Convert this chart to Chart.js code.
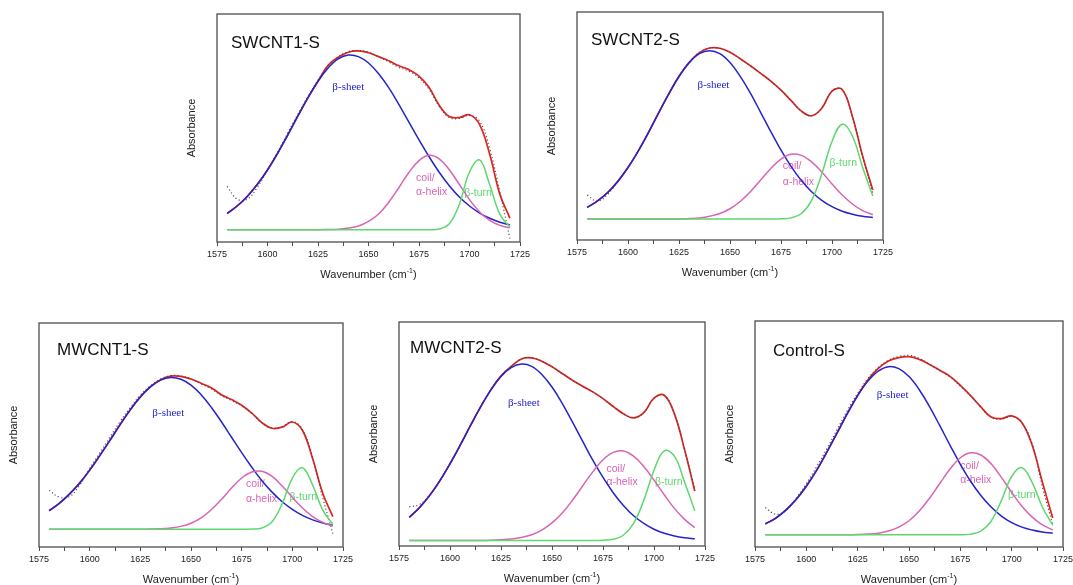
<!DOCTYPE html>
<html>
<head>
<meta charset="utf-8">
<title>FTIR amide I deconvolution</title>
<script src="https://cdn.jsdelivr.net/npm/chart.js@4.4.1/dist/chart.umd.min.js"></script>
<style>
  html, body { margin: 0; padding: 0; background: #fff; overflow: hidden; }
  body { width: 1073px; height: 585px; position: relative; }
  canvas { position: absolute; }
</style>
</head>
<body>
<canvas id="c-swcnt1"></canvas>
<canvas id="c-swcnt2"></canvas>
<canvas id="c-mwcnt1"></canvas>
<canvas id="c-mwcnt2"></canvas>
<canvas id="c-control"></canvas>
<script>
// wavenumber grid shared by every curve (cm-1)
var wavenumbers = [1580, 1585, 1590, 1595, 1600, 1605, 1610, 1615, 1620, 1625, 1630, 1635, 1640, 1645, 1650,
  1655, 1660, 1665, 1670, 1675, 1680, 1685, 1690, 1695, 1700, 1705, 1710, 1715, 1720];
var xTickLabels = [1575, 1600, 1625, 1650, 1675, 1700, 1725];

// SWCNT1-S
var swcnt1Sheet = [12.5, 15.8, 20.0, 25.3, 31.6, 38.9, 46.9, 55.2, 63.2, 70.5, 76.3, 80.3, 82.0, 81.3, 78.5, 73.8, 67.7, 60.4, 52.6, 44.8, 37.4, 30.6, 24.7, 19.7, 15.8, 12.7, 10.4, 8.7, 7.5];
var swcnt1Helix = [5.4, 5.4, 5.4, 5.4, 5.4, 5.4, 5.4, 5.4, 5.4, 5.4, 5.5, 5.6, 6.1, 7.0, 9.0, 12.3, 17.4, 23.8, 30.5, 35.7, 38.0, 36.5, 31.7, 25.2, 18.6, 13.2, 9.5, 7.3, 6.2];
var swcnt1Turn = [5.4, 5.4, 5.4, 5.4, 5.4, 5.4, 5.4, 5.4, 5.4, 5.4, 5.4, 5.4, 5.4, 5.4, 5.4, 5.4, 5.4, 5.4, 5.4, 5.4, 5.4, 5.7, 8.0, 16.6, 30.7, 36.0, 25.1, 12.2, 6.6];
var swcnt1Fit = [12.5, 15.8, 20.0, 25.3, 31.6, 38.9, 46.9, 55.2, 63.2, 70.5, 77.5, 81.0, 83.2, 83.8, 83.0, 81.3, 79.5, 77.3, 75.6, 72.8, 67.8, 60.0, 55.0, 54.6, 55.8, 51.5, 38.5, 21.0, 10.5];
var swcnt1Measured = [24.4, 18.8, 18.8, 24.0, 31.6, 39.5, 47.8, 56.0, 63.8, 71.0, 77.2, 81.2, 83.5, 84.0, 83.3, 81.2, 79.0, 76.6, 74.9, 72.0, 67.0, 59.5, 54.6, 54.2, 55.5, 53.0, 41.0, 22.0, 1.5];

// SWCNT2-S
var swcnt2Sheet = [14.3, 17.1, 20.8, 25.7, 31.8, 39.0, 47.1, 55.7, 64.1, 71.7, 77.7, 81.7, 83.0, 81.7, 77.8, 71.8, 64.4, 56.0, 47.5, 39.4, 32.2, 26.1, 21.2, 17.4, 14.6, 12.6, 11.3, 10.4, 9.9];
var swcnt2Helix = [9.2, 9.2, 9.2, 9.2, 9.2, 9.2, 9.2, 9.2, 9.2, 9.2, 9.4, 9.7, 10.4, 11.6, 13.7, 16.9, 21.2, 26.3, 31.4, 35.5, 37.6, 37.1, 34.3, 29.8, 24.6, 19.7, 15.8, 12.9, 11.1];
var swcnt2Turn = [9.2, 9.2, 9.2, 9.2, 9.2, 9.2, 9.2, 9.2, 9.2, 9.2, 9.2, 9.2, 9.2, 9.2, 9.2, 9.2, 9.2, 9.2, 9.2, 9.3, 9.7, 11.6, 17.4, 29.0, 43.2, 50.8, 45.6, 31.9, 19.3];
var swcnt2Fit = [14.3, 17.1, 20.8, 25.7, 31.8, 39.0, 47.1, 55.7, 64.1, 71.8, 77.9, 82.2, 84.2, 84.1, 82.3, 79.5, 76.4, 73.1, 69.7, 65.7, 61.1, 56.5, 54.5, 57.8, 65.3, 66.0, 54.2, 36.8, 21.9];
var swcnt2Measured = [19.7, 17.0, 20.0, 25.7, 31.8, 39.0, 47.1, 55.7, 64.1, 71.8, 77.9, 82.2, 84.2, 84.1, 82.3, 79.5, 76.4, 73.1, 69.7, 65.7, 61.1, 56.5, 54.5, 57.8, 65.3, 66.0, 54.2, 36.8, 20.5];

// MWCNT1-S
var mwcnt1Sheet = [16.2, 19.5, 23.6, 28.5, 34.3, 40.8, 47.6, 54.6, 61.2, 67.0, 71.5, 74.5, 75.7, 74.9, 72.3, 68.0, 62.4, 55.9, 49.0, 42.1, 35.6, 29.6, 24.5, 20.2, 16.8, 14.1, 12.1, 10.7, 9.7];
var mwcnt1Helix = [7.9, 7.9, 7.9, 7.9, 7.9, 7.9, 7.9, 7.9, 7.9, 7.9, 8.0, 8.1, 8.5, 9.2, 10.6, 13.0, 16.6, 21.2, 26.3, 30.8, 33.5, 33.8, 31.5, 27.2, 22.2, 17.4, 13.6, 11.0, 9.4];
var mwcnt1Turn = [7.9, 7.9, 7.9, 7.9, 7.9, 7.9, 7.9, 7.9, 7.9, 7.9, 7.9, 7.9, 7.9, 7.9, 7.9, 7.9, 7.9, 7.9, 7.9, 7.9, 8.0, 8.5, 11.3, 19.3, 30.8, 35.4, 27.7, 16.5, 10.1];
var mwcnt1Fit = [16.2, 19.5, 23.6, 28.5, 34.3, 40.8, 47.6, 54.6, 61.2, 67.0, 71.6, 74.7, 76.3, 76.2, 75.0, 73.1, 71.1, 68.0, 65.8, 63.3, 59.8, 55.5, 53.0, 53.5, 55.8, 52.0, 39.5, 24.0, 13.6];
var mwcnt1Measured = [25.4, 22.2, 22.5, 27.5, 35.0, 42.0, 49.0, 56.0, 62.2, 67.8, 72.0, 75.0, 76.5, 76.4, 75.0, 72.8, 70.6, 67.6, 65.4, 63.0, 59.6, 55.4, 53.2, 53.8, 56.0, 52.5, 40.0, 22.0, 6.0];

// MWCNT2-S
var mwcnt2Sheet = [12.8, 17.1, 22.5, 29.1, 36.7, 45.0, 53.7, 62.1, 69.6, 75.7, 79.6, 81.2, 80.2, 76.6, 71.0, 63.7, 55.4, 46.8, 38.3, 30.6, 23.8, 18.1, 13.5, 10.1, 7.5, 5.7, 4.5, 3.7, 3.2];
var mwcnt2Helix = [2.5, 2.5, 2.5, 2.5, 2.5, 2.5, 2.5, 2.5, 2.6, 2.8, 3.1, 3.8, 5.0, 7.1, 10.3, 14.7, 20.4, 26.8, 33.1, 38.5, 41.8, 42.4, 40.1, 35.5, 29.4, 22.9, 16.8, 11.9, 8.2];
var mwcnt2Turn = [2.5, 2.5, 2.5, 2.5, 2.5, 2.5, 2.5, 2.5, 2.5, 2.5, 2.5, 2.5, 2.5, 2.5, 2.5, 2.5, 2.5, 2.5, 2.5, 2.6, 3.0, 4.8, 10.1, 20.4, 33.8, 42.5, 40.1, 28.5, 15.7];
var mwcnt2Fit = [12.8, 17.1, 22.5, 29.1, 36.7, 45.0, 53.7, 62.1, 69.7, 76.0, 80.2, 83.5, 84.0, 82.5, 80.0, 77.0, 74.0, 71.3, 68.8, 65.8, 62.3, 59.0, 57.2, 59.5, 66.0, 67.3, 59.0, 43.0, 24.5];
var mwcnt2Measured = [17.5, 18.5, 22.8, 29.1, 36.7, 45.0, 53.7, 62.1, 69.7, 76.0, 80.2, 83.5, 84.0, 82.5, 80.0, 77.0, 74.0, 71.3, 68.8, 65.8, 62.3, 59.0, 57.2, 59.5, 66.0, 67.3, 59.0, 43.0, 25.5];

// Control-S
var controlSheet = [10.2, 12.7, 16.3, 21.0, 26.9, 33.9, 42.0, 50.5, 59.1, 67.0, 73.4, 77.8, 79.8, 78.9, 75.4, 69.6, 62.1, 53.7, 45.0, 36.6, 29.1, 22.8, 17.7, 13.7, 10.8, 8.8, 7.5, 6.6, 6.1];
var controlHelix = [5.4, 5.4, 5.4, 5.4, 5.4, 5.4, 5.4, 5.4, 5.4, 5.5, 5.7, 6.1, 7.1, 8.8, 11.6, 15.9, 21.6, 28.1, 34.5, 39.5, 41.7, 40.7, 36.8, 30.8, 24.2, 18.0, 13.2, 9.8, 7.6];
var controlTurn = [5.4, 5.4, 5.4, 5.4, 5.4, 5.4, 5.4, 5.4, 5.4, 5.4, 5.4, 5.4, 5.4, 5.4, 5.4, 5.4, 5.4, 5.4, 5.4, 5.4, 5.7, 7.0, 11.4, 20.6, 31.2, 35.1, 28.5, 17.6, 9.7];
var controlFit = [10.2, 12.7, 16.3, 21.0, 26.9, 33.9, 42.0, 50.5, 59.1, 67.1, 74.0, 79.0, 82.3, 83.8, 84.2, 83.0, 80.8, 78.2, 75.5, 71.5, 67.0, 62.0, 57.5, 56.8, 58.0, 55.0, 45.0, 28.5, 12.8];
var controlMeasured = [17.5, 14.5, 16.0, 21.5, 28.0, 35.5, 43.5, 52.0, 60.5, 68.0, 74.5, 79.3, 82.6, 84.3, 84.8, 83.5, 80.8, 78.0, 75.2, 71.2, 66.8, 61.8, 57.3, 56.6, 57.8, 55.0, 45.5, 26.5, 9.9];

var SANS = '"Liberation Sans", Arial, sans-serif';
var SERIF = '"Liberation Serif", "Times New Roman", serif';
var colors = { sheet: '#2424cc', helix: '#d964b4', turn: '#5ed86e', fit: '#e2231f', measured: '#4a4a4a' };

// frame = plot area in page pixels [left, top, right, bottom]
var panels = [
  { canvas: 'c-swcnt1', title: 'SWCNT1-S', frame: [217, 14, 520, 242], titleAt: [14, 34],
    sheet: swcnt1Sheet, helix: swcnt1Helix, turn: swcnt1Turn, fit: swcnt1Fit, measured: swcnt1Measured,
    labels: { sheet: [1640, 67.9], coil: [1673.5, 28.0], helix: [1673.5, 21.8], turn: [1697.4, 21.5] } },
  { canvas: 'c-swcnt2', title: 'SWCNT2-S', frame: [577, 12, 883, 240], titleAt: [14, 33],
    sheet: swcnt2Sheet, helix: swcnt2Helix, turn: swcnt2Turn, fit: swcnt2Fit, measured: swcnt2Measured,
    labels: { sheet: [1641.9, 68.0], coil: [1675.9, 32.2], helix: [1675.9, 25.6], turn: [1698.8, 33.6] } },
  { canvas: 'c-mwcnt1', title: 'MWCNT1-S', frame: [39, 323, 343, 547], titleAt: [18, 32],
    sheet: mwcnt1Sheet, helix: mwcnt1Helix, turn: mwcnt1Turn, fit: mwcnt1Fit, measured: mwcnt1Measured,
    labels: { sheet: [1638.8, 59.7], coil: [1677.1, 27.9], helix: [1677.1, 21.6], turn: [1698.6, 22.1] } },
  { canvas: 'c-mwcnt2', title: 'MWCNT2-S', frame: [399, 322, 705, 546], titleAt: [11, 31],
    sheet: mwcnt2Sheet, helix: mwcnt2Helix, turn: mwcnt2Turn, fit: mwcnt2Fit, measured: mwcnt2Measured,
    labels: { sheet: [1636.2, 64.0], coil: [1676.7, 34.3], helix: [1676.7, 28.4], turn: [1700.5, 28.4] } },
  { canvas: 'c-control', title: 'Control-S', frame: [755, 321, 1063, 547], titleAt: [18, 35],
    sheet: controlSheet, helix: controlHelix, turn: controlTurn, fit: controlFit, measured: controlMeasured,
    labels: { sheet: [1642, 67.3], coil: [1674.9, 35.9], helix: [1674.9, 29.5], turn: [1698.2, 22.8] } }
];

function points(values) {
  return wavenumbers.map(function (w, i) { return { x: w, y: values[i] }; });
}

// frame, panel title, axis titles and band labels
var panelDecor = {
  id: 'panelDecor',
  beforeDatasetsDraw: function (chart, args, opts) {
    var ctx = chart.ctx, xs = chart.scales.x, ys = chart.scales.y, lb = opts.labels;
    ctx.save();
    ctx.textBaseline = 'middle';
    ctx.font = '11px ' + SERIF;
    ctx.fillStyle = colors.sheet;
    ctx.textAlign = 'center';
    ctx.fillText('\u03b2-sheet', xs.getPixelForValue(lb.sheet[0]), ys.getPixelForValue(lb.sheet[1]));
    ctx.textAlign = 'left';
    ctx.font = '10.5px ' + SANS;
    ctx.fillStyle = colors.helix;
    ctx.fillText('coil/', xs.getPixelForValue(lb.coil[0]), ys.getPixelForValue(lb.coil[1]));
    ctx.fillText('\u03b1-helix', xs.getPixelForValue(lb.helix[0]), ys.getPixelForValue(lb.helix[1]));
    ctx.fillStyle = colors.turn;
    ctx.fillText('\u03b2-turn', xs.getPixelForValue(lb.turn[0]), ys.getPixelForValue(lb.turn[1]));
    ctx.restore();
  },
  afterDatasetsDraw: function (chart, args, opts) {
    var ctx = chart.ctx, a = chart.chartArea;
    ctx.save();
    ctx.strokeStyle = '#4d4d4d';
    ctx.lineWidth = 1.3;
    ctx.strokeRect(a.left, a.top, a.right - a.left, a.bottom - a.top);

    ctx.fillStyle = '#111';
    ctx.font = '17px ' + SANS;
    ctx.textAlign = 'left';
    ctx.textBaseline = 'alphabetic';
    ctx.fillText(opts.title, a.left + opts.titleAt[0], a.top + opts.titleAt[1]);

    // x title with superscript
    var axisFont = '11px ' + SANS, supFont = '7px ' + SANS;
    var main = 'Wavenumber (cm', sup = '-1', tail = ')';
    ctx.fillStyle = '#222';
    ctx.font = supFont;
    var wSup = ctx.measureText(sup).width;
    ctx.font = axisFont;
    var wMain = ctx.measureText(main).width, wTail = ctx.measureText(tail).width;
    var x0 = (a.left + a.right) / 2 - (wMain + wSup + wTail) / 2, base = a.bottom + 36;
    ctx.fillText(main, x0, base);
    ctx.font = supFont;
    ctx.fillText(sup, x0 + wMain, base - 5);
    ctx.font = axisFont;
    ctx.fillText(tail, x0 + wMain + wSup, base);

    ctx.translate(a.left - 25, (a.top + a.bottom) / 2);
    ctx.rotate(-Math.PI / 2);
    ctx.textAlign = 'center';
    ctx.textBaseline = 'middle';
    ctx.fillText('Absorbance', 0, 0);
    ctx.restore();
  }
};

function line(label, values, color, order, dash, width) {
  return {
    label: label,
    data: points(values),
    borderColor: color,
    borderWidth: width || 1.5,
    borderDash: dash || [],
    pointRadius: 0,
    tension: 0.4,
    fill: false,
    order: order
  };
}

panels.forEach(function (p) {
  var f = p.frame;
  var canvas = document.getElementById(p.canvas);
  var left = f[0] - 40, top = f[1] - 4;
  canvas.width = f[2] + 14 - left;
  canvas.height = f[3] + 42 - top;
  canvas.style.left = left + 'px';
  canvas.style.top = top + 'px';

  new Chart(canvas.getContext('2d'), {
    type: 'line',
    data: {
      datasets: [
        line('\u03b2-turn', p.turn, colors.turn, 1),
        line('coil/\u03b1-helix', p.helix, colors.helix, 2),
        line('\u03b2-sheet', p.sheet, colors.sheet, 3),
        line('measured', p.measured, colors.measured, 4, [1.2, 2.4], 1.1),
        line('fit', p.fit, colors.fit, 5, [], 1.7)
      ]
    },
    options: {
      responsive: false,
      animation: false,
      events: [],
      layout: { padding: { left: 40, top: 4, right: 14, bottom: 0 } },
      plugins: {
        legend: { display: false },
        tooltip: { enabled: false },
        panelDecor: { title: p.title, titleAt: p.titleAt, labels: p.labels }
      },
      scales: {
        x: {
          type: 'linear',
          min: 1575,
          max: 1725,
          afterFit: function (s) { s.height = 42; },
          border: { display: false },
          grid: { display: true, drawOnChartArea: false, drawTicks: true, tickLength: 4, color: '#4d4d4d' },
          ticks: {
            stepSize: 12.5,
            autoSkip: false,
            maxRotation: 0,
            padding: 3,
            color: '#222',
            font: { family: SANS, size: 9 },
            callback: function (v) { return xTickLabels.indexOf(v) >= 0 ? String(v) : ''; }
          }
        },
        y: { display: false, min: 0, max: 100 }
      }
    },
    plugins: [panelDecor]
  });
});
</script>
</body>
</html>
